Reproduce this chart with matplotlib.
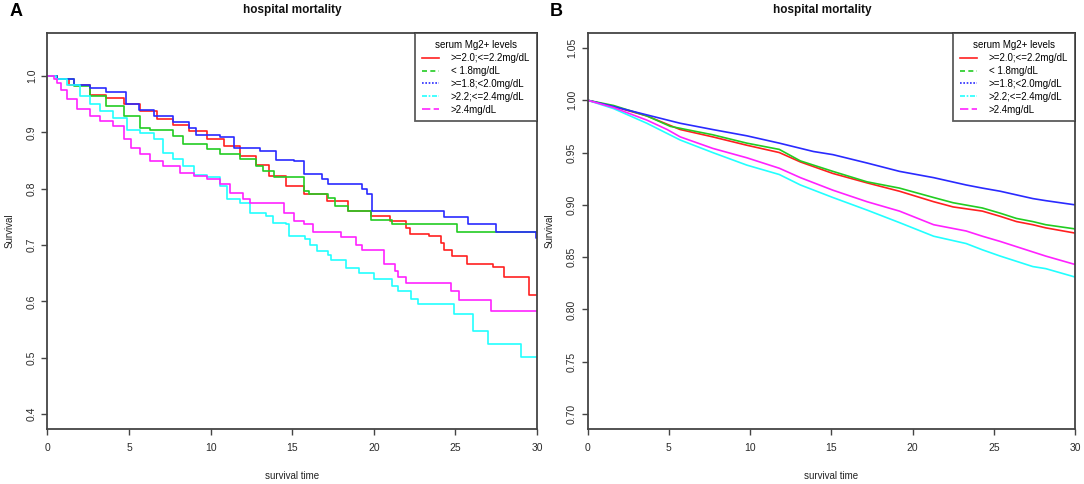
# Kaplan-Meier style survival curves by serum Mg2+ level, two panels
import numpy as np
import matplotlib
matplotlib.use("Agg")
import matplotlib.pyplot as plt
from matplotlib.lines import Line2D

plt.rcParams["font.family"] = ["Liberation Sans", "DejaVu Sans"]

# group labels, colours and legend line styles
groups = [">=2.0;<=2.2mg/dL", "< 1.8mg/dL", ">=1.8;<2.0mg/dL", ">2.2;<=2.4mg/dL", ">2.4mg/dL"]
colors = ["#ff2020", "#22cc22", "#2a2aff", "#22ffff", "#ff22ff"]
legend_styles = ["-", (0, (3, 2)), (0, (1, 1)), (0, (3, 1, 1, 1)), (0, (5, 2))]

# panel A (time in days, survival)
a_red_t = [0, 0.6, 1.3, 2.6, 3.6, 4.7, 5.7, 6.7, 7.7, 8.7, 9.8, 10.8, 11.8, 12.8, 13.6, 14.6,
           15.7, 17.1, 18.4, 19.8, 21.0, 22.0, 22.2, 23.4, 24.1, 24.3, 24.8, 25.7, 27.3, 28.0, 29.5, 30]
a_red_s = [1.0, 0.995, 0.985, 0.967, 0.962, 0.950, 0.938, 0.923, 0.914, 0.902, 0.888, 0.876, 0.858, 0.843, 0.822, 0.805,
           0.790, 0.778, 0.760, 0.751, 0.742, 0.731, 0.719, 0.716, 0.704, 0.692, 0.680, 0.667, 0.661, 0.644, 0.611, 0.611]

a_green_t = [0, 0.6, 1.6, 2.6, 3.6, 4.7, 5.7, 6.3, 7.7, 8.3, 9.8, 10.6, 11.8, 12.8, 13.2, 13.9,
             15.7, 16.0, 17.2, 17.6, 18.4, 19.8, 21.1, 25.1, 30]
a_green_s = [1.0, 0.995, 0.982, 0.964, 0.947, 0.929, 0.908, 0.905, 0.893, 0.879, 0.871, 0.861, 0.852, 0.840, 0.831, 0.821,
             0.796, 0.790, 0.784, 0.770, 0.760, 0.744, 0.737, 0.724, 0.724]

a_blue_t = [0, 0.6, 1.6, 2.6, 3.6, 4.8, 5.6, 6.5, 7.7, 8.7, 9.1, 10.6, 11.4, 13.0, 14.0, 15.1,
            15.7, 16.8, 17.2, 19.3, 19.6, 19.9, 24.3, 25.8, 27.5, 29.95, 30]
a_blue_s = [1.0, 0.995, 0.985, 0.979, 0.971, 0.950, 0.940, 0.930, 0.918, 0.908, 0.896, 0.891, 0.872, 0.867, 0.851, 0.850,
            0.826, 0.818, 0.809, 0.800, 0.790, 0.760, 0.750, 0.738, 0.724, 0.712, 0.712]

a_cyan_t = [0, 0.5, 1.2, 2.0, 2.6, 3.2, 4.0, 4.9, 5.7, 6.5, 7.1, 7.7, 8.3, 9.0, 9.8, 10.6, 11.0, 11.8,
            12.4, 13.4, 13.8, 14.6, 14.8, 15.8, 16.1, 16.5, 17.2, 17.4, 18.3, 19.1, 20.0, 21.1, 21.5,
            22.3, 22.7, 24.9, 26.1, 27.0, 29.0, 30]
a_cyan_s = [1.0, 0.995, 0.985, 0.964, 0.950, 0.938, 0.926, 0.905, 0.899, 0.888, 0.864, 0.852, 0.840, 0.825, 0.820, 0.805, 0.781, 0.775,
            0.757, 0.751, 0.740, 0.737, 0.716, 0.710, 0.701, 0.689, 0.683, 0.674, 0.660, 0.651, 0.640, 0.628, 0.618,
            0.605, 0.595, 0.578, 0.548, 0.525, 0.501, 0.501]

a_mag_t = [0, 0.4, 0.6, 0.8, 1.2, 1.8, 2.6, 3.2, 4.0, 4.7, 5.1, 5.7, 6.3, 7.1, 8.1, 9.0, 9.8, 10.6,
           11.2, 12.0, 12.4, 14.5, 15.1, 15.7, 16.3, 18.0, 18.9, 19.3, 20.6, 21.3, 21.5, 22.0, 24.7, 25.2, 27.2, 30]
a_mag_s = [1.0, 0.995, 0.988, 0.976, 0.959, 0.941, 0.929, 0.920, 0.911, 0.888, 0.873, 0.861, 0.849, 0.840, 0.828, 0.822, 0.817, 0.808,
           0.793, 0.781, 0.775, 0.757, 0.742, 0.737, 0.723, 0.715, 0.701, 0.691, 0.666, 0.654, 0.644, 0.633, 0.618, 0.603, 0.583, 0.583]

# panel B
b_red_t = [0, 1.6, 3.65, 5.7, 7.7, 9.8, 11.8, 13.1, 15.1, 17.2, 19.2, 21.3, 22.5, 24.3, 25.4, 26.4, 27.4, 28.2, 30]
b_red_s = [1.0, 0.994, 0.985, 0.972, 0.965, 0.957, 0.950, 0.941, 0.930, 0.921, 0.913, 0.903, 0.898, 0.894, 0.889, 0.884, 0.881, 0.878, 0.873]

b_green_t = [0, 1.6, 3.65, 5.1, 7.7, 9.8, 11.8, 13.1, 15.1, 17.2, 19.2, 21.3, 22.5, 24.3, 25.4, 26.4, 27.4, 28.2, 30]
b_green_s = [1.0, 0.995, 0.985, 0.975, 0.967, 0.959, 0.953, 0.942, 0.932, 0.922, 0.916, 0.907, 0.902, 0.897, 0.892, 0.887, 0.884, 0.881, 0.877]

b_blue_t = [0, 1.6, 3.65, 5.7, 7.7, 9.8, 11.8, 13.9, 15.1, 17.2, 19.2, 21.3, 23.3, 24.3, 25.4, 27.4, 28.2, 29.1, 30]
b_blue_s = [1.0, 0.994, 0.986, 0.978, 0.972, 0.966, 0.959, 0.951, 0.948, 0.940, 0.932, 0.926, 0.919, 0.916, 0.913, 0.906, 0.904, 0.902, 0.900]

b_cyan_t = [0, 1.6, 3.65, 5.7, 7.7, 9.8, 11.8, 13.1, 15.1, 17.2, 19.2, 21.3, 23.3, 24.3, 25.4, 26.4, 27.4, 28.2, 30]
b_cyan_s = [1.0, 0.992, 0.978, 0.962, 0.950, 0.938, 0.929, 0.919, 0.907, 0.895, 0.883, 0.870, 0.863, 0.857, 0.851, 0.846, 0.841, 0.839, 0.831]

b_mag_t = [0, 1.6, 3.65, 4.9, 5.7, 7.7, 9.8, 11.8, 13.1, 15.1, 17.2, 19.2, 21.3, 23.3, 24.3, 25.4, 26.4, 27.4, 28.2, 30]
b_mag_s = [1.0, 0.993, 0.981, 0.972, 0.965, 0.954, 0.945, 0.935, 0.926, 0.914, 0.903, 0.894, 0.881, 0.875, 0.870, 0.865, 0.860, 0.855, 0.851, 0.843]

panel_a = [(a_red_t, a_red_s), (a_green_t, a_green_s), (a_blue_t, a_blue_s), (a_cyan_t, a_cyan_s), (a_mag_t, a_mag_s)]
panel_b = [(b_red_t, b_red_s), (b_green_t, b_green_s), (b_blue_t, b_blue_s), (b_cyan_t, b_cyan_s), (b_mag_t, b_mag_s)]

a_yticks = [0.4, 0.5, 0.6, 0.7, 0.8, 0.9, 1.0]
b_yticks = [0.70, 0.75, 0.80, 0.85, 0.90, 0.95, 1.00, 1.05]
xticks = [0, 5, 10, 15, 20, 25, 30]

fig = plt.figure(figsize=(10.84, 4.84), dpi=100)
ax_a = fig.add_axes([0.0438, 0.1143, 0.4516, 0.8169])
ax_b = fig.add_axes([0.5420, 0.1143, 0.4497, 0.8169])

frame_col = "#444444"


def style_axes(ax, ylim, yticks, yfmt, title_x):
    ax.set_xlim(0, 30)
    ax.set_ylim(ylim[0] - 0.04 * (ylim[1] - ylim[0]), ylim[1] + 0.04 * (ylim[1] - ylim[0]))
    ax.set_xticks(xticks)
    ax.set_xticklabels([str(v) for v in xticks])
    ax.set_yticks(yticks)
    ax.set_yticklabels([yfmt.format(v) for v in yticks], rotation=90, va="center")
    ax.tick_params(direction="out", length=4, width=1.0, color=frame_col,
                   labelsize=7.5, labelcolor="#2a2a2a")
    ax.tick_params(axis="x", pad=6)
    ax.tick_params(axis="y", pad=3.5)
    for sp in ax.spines.values():
        sp.set_color(frame_col)
        sp.set_linewidth(1.3)
    ax.set_xlabel("survival time", fontsize=7, color="#222222", labelpad=13)
    ax.set_ylabel("Survival", fontsize=7, color="#222222", labelpad=9)
    fig.text(title_x, 1 - 10 / 484, "hospital mortality", fontsize=8.5, fontweight="bold",
             ha="center", va="center", color="#111111")


# panel A: step curves
for (t, s), c in zip(panel_a, colors):
    ax_a.plot(t, s, drawstyle="steps-post", color=c, lw=1.2)
# panel B: many tiny steps, drawn as lines through the read points
for (t, s), c in zip(panel_b, colors):
    ax_b.plot(t, s, color=c, lw=1.2)

style_axes(ax_a, (0.4, 1.05), a_yticks, "{:.1f}", 292 / 1084)
style_axes(ax_b, (0.7, 1.05), b_yticks, "{:.2f}", 822 / 1084)

handles = [Line2D([0], [0], color=c, ls=ls, lw=1.2) for c, ls in zip(colors, legend_styles)]
for ax in (ax_a, ax_b):
    leg = ax.legend(handles, groups, title="serum Mg2+ levels", loc="upper right",
                    fontsize=7, title_fontsize=7, frameon=True, fancybox=False,
                    borderaxespad=0, borderpad=0.7, labelspacing=0.3,
                    handlelength=1.8, handletextpad=1.2)
    leg.get_frame().set_edgecolor("#333333")
    leg.get_frame().set_linewidth(1.3)

fig.text(10 / 1084, 1 - 12 / 484, "A", fontsize=13, fontweight="bold", ha="left", va="center")
fig.text(550 / 1084, 1 - 12 / 484, "B", fontsize=13, fontweight="bold", ha="left", va="center")

fig.savefig("out.png", dpi=100)
